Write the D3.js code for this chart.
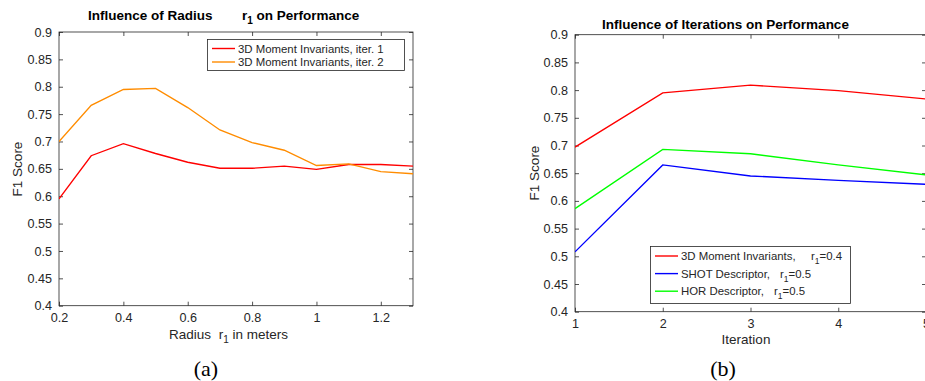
<!DOCTYPE html>
<html><head><meta charset="utf-8">
<script src="https://cdn.jsdelivr.net/npm/d3@7"></script>
<style>
body{margin:0;background:#fff;}
svg{display:block;font-family:"Liberation Sans",Arial,sans-serif;}
</style></head>
<body><svg id="c" width="925" height="381"></svg>
<script>
// Panel (a) data
const radius = [0.2,0.3,0.4,0.5,0.6,0.7,0.8,0.9,1.0,1.1,1.2,1.3];
const iter1 = [0.595,0.674,0.696,0.678,0.662,0.651,0.651,0.655,0.649,0.658,0.658,0.655];
const iter2 = [0.700,0.766,0.795,0.797,0.762,0.721,0.698,0.684,0.656,0.659,0.645,0.641];
const radiusTicks = [0.2,0.4,0.6,0.8,1,1.2];
// Panel (b) data
const iterations = [1,2,3,4,5];
const moment = [0.697,0.795,0.809,0.799,0.784];
const shot = [0.508,0.665,0.645,0.637,0.630];
const hor = [0.586,0.693,0.685,0.665,0.647];
const iterTicks = [1,2,3,4,5];
const yTicks = [0.4,0.45,0.5,0.55,0.6,0.65,0.7,0.75,0.8,0.85,0.9];

const svg = d3.select("#c");
const axisCol = "#262626";
const textCol = "#262626";
const tickFont = "12.6px";

function panel(o){
  const g = svg.append("g");
  const x = d3.scaleLinear().domain(o.xDomain).range([o.x0,o.x1]);
  const y = d3.scaleLinear().domain([0.4,0.9]).range([o.y1,o.y0]);
  g.append("rect").attr("x",o.x0).attr("y",o.y0).attr("width",o.x1-o.x0).attr("height",o.y1-o.y0)
    .attr("fill","none").attr("stroke",axisCol).attr("stroke-width",0.8);
  const fmt = d => String(+d.toFixed(2));
  const ax = (sel)=>{sel.selectAll(".domain").remove(); sel.selectAll("line").attr("stroke",axisCol).attr("stroke-width",0.8); sel.selectAll("text").attr("fill",textCol).attr("font-size",tickFont).attr("font-family","Liberation Sans, Arial, sans-serif");};
  g.append("g").attr("transform",`translate(0,${o.y1})`).call(d3.axisBottom(x).tickValues(o.xTicks).tickSizeInner(-4).tickSizeOuter(0).tickPadding(7).tickFormat(d=>String(d))).call(ax);
  g.append("g").attr("transform",`translate(0,${o.y0})`).call(d3.axisTop(x).tickValues(o.xTicks).tickSizeInner(-4).tickSizeOuter(0).tickFormat("")).call(ax);
  g.append("g").attr("transform",`translate(${o.x0},0)`).call(d3.axisLeft(y).tickValues(yTicks).tickSizeInner(-4).tickSizeOuter(0).tickPadding(7).tickFormat(fmt)).call(ax);
  g.append("g").attr("transform",`translate(${o.x1},0)`).call(d3.axisRight(y).tickValues(yTicks).tickSizeInner(-4).tickSizeOuter(0).tickFormat("")).call(ax);
  const line = d3.line().x(d=>x(d[0])).y(d=>y(d[1]));
  const clipId = "clip"+o.id;
  svg.append("clipPath").attr("id",clipId).append("rect").attr("x",o.x0).attr("y",o.y0).attr("width",o.x1-o.x0).attr("height",o.y1-o.y0);
  o.series.forEach(s=>{
    g.append("path").attr("clip-path",`url(#${clipId})`).attr("d",line(o.xs.map((v,i)=>[v,s.values[i]])))
      .attr("fill","none").attr("stroke",s.color).attr("stroke-width",1.4);
  });
  return {g,x,y};
}

// Panel (a)
panel({id:"a",x0:59,x1:413,y0:32,y1:305.7,xDomain:[0.2,1.3],xTicks:radiusTicks,xs:radius,
  series:[{values:iter1,color:"#ff0000"},{values:iter2,color:"#ff8c00"}]});
// Panel (b)
panel({id:"b",x0:575,x1:926,y0:34.7,y1:311.7,xDomain:[1,5],xTicks:iterTicks,xs:iterations,
  series:[{values:moment,color:"#ff0000"},{values:shot,color:"#0000ff"},{values:hor,color:"#00ff00"}]});

// Titles
svg.append("text").attr("x",88).attr("y",20).attr("font-size","13.5px").attr("font-weight","bold").attr("fill","#000")
  .html('Influence of Radius<tspan x="242">r</tspan><tspan dy="4" font-size="10px">1</tspan><tspan dy="-4"> on Performance</tspan>');
svg.append("text").attr("x",725.5).attr("y",29).attr("text-anchor","middle").attr("font-size","13.5px").attr("font-weight","bold").attr("fill","#000")
  .text("Influence of Iterations on Performance");

// Axis labels
svg.append("text").attr("x",169).attr("y",339).attr("font-size","13.5px").attr("fill",textCol)
  .html('Radius <tspan dx="4">r</tspan><tspan dy="4" font-size="10px">1</tspan><tspan dy="-4"> in meters</tspan>');
svg.append("text").attr("x",746).attr("y",344).attr("text-anchor","middle").attr("font-size","13.5px").attr("fill",textCol).text("Iteration");
svg.append("text").attr("transform","translate(22,169) rotate(-90)").attr("text-anchor","middle").attr("font-size","13.5px").attr("fill",textCol).text("F1 Score");
svg.append("text").attr("transform","translate(539,173) rotate(-90)").attr("text-anchor","middle").attr("font-size","13.5px").attr("fill",textCol).text("F1 Score");

// Legend (a)
const legA = [{name:"3D Moment Invariants, iter. 1",color:"#ff0000"},{name:"3D Moment Invariants, iter. 2",color:"#ff8c00"}];
svg.append("rect").attr("x",207.5).attr("y",39.5).attr("width",197).attr("height",31).attr("fill","#fff").attr("stroke",axisCol).attr("stroke-width",0.8);
legA.forEach((l,i)=>{
  const yy = 48.5+i*13.5;
  svg.append("line").attr("x1",212).attr("x2",235).attr("y1",yy).attr("y2",yy).attr("stroke",l.color).attr("stroke-width",1.4);
  svg.append("text").attr("x",238).attr("y",yy+4).attr("font-size","11.4px").attr("fill",textCol).text(l.name);
});
// Legend (b)
const legB = [{name:"3D Moment Invariants,",rx:811,color:"#ff0000"},{name:"SHOT Descriptor,",rx:780,color:"#0000ff"},{name:"HOR Descriptor,",rx:774,color:"#00ff00"}];
const legBsub = ["=0.4","=0.5","=0.5"];
svg.append("rect").attr("x",650.5).attr("y",246.5).attr("width",200).attr("height",57).attr("fill","#fff").attr("stroke",axisCol).attr("stroke-width",0.8);
legB.forEach((l,i)=>{
  const yy = 256+i*17.6;
  svg.append("line").attr("x1",655).attr("x2",678).attr("y1",yy).attr("y2",yy).attr("stroke",l.color).attr("stroke-width",1.4);
  svg.append("text").attr("x",681).attr("y",yy+4).attr("font-size","11.4px").attr("fill",textCol)
    .html(`${l.name}<tspan x="${l.rx}">r</tspan><tspan dy="4" font-size="8.5px">1</tspan><tspan dy="-4">${legBsub[i]}</tspan>`);
});

// Captions
svg.append("text").attr("x",206).attr("y",376).attr("text-anchor","middle").attr("font-family","Liberation Serif, serif").attr("font-size","22px").attr("fill","#000").text("(a)");
svg.append("text").attr("x",723).attr("y",376).attr("text-anchor","middle").attr("font-family","Liberation Serif, serif").attr("font-size","22px").attr("fill","#000").text("(b)");
</script></body></html>
